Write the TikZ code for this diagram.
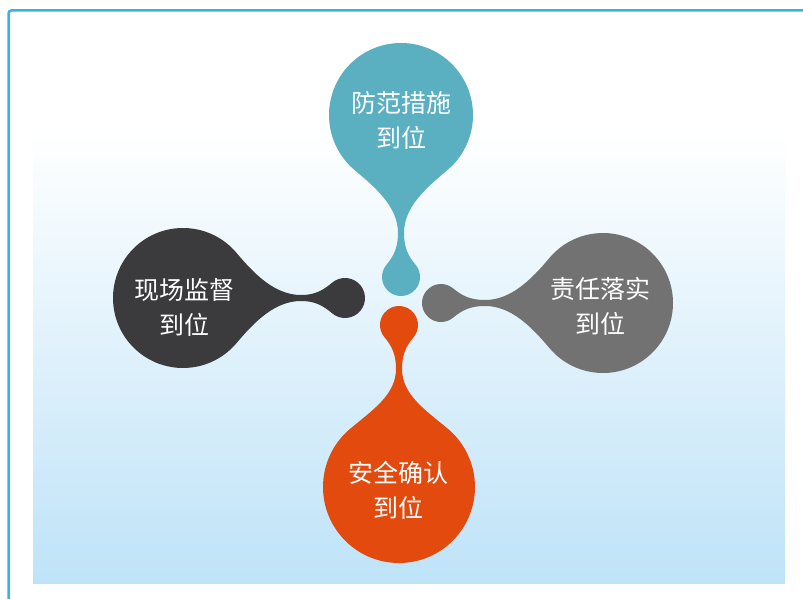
\documentclass[tikz,border=0pt]{standalone}
\usepackage{fontspec}
\newfontfamily\cjk{Noto Sans CJK SC}
\usepackage{tikz}
\usetikzlibrary{calc}

\definecolor{frameblue}{RGB}{52,180,230}
\definecolor{skyblue}{RGB}{190,227,248}
\definecolor{dropteal}{RGB}{90,175,192}
\definecolor{dropdark}{RGB}{59,58,60}
\definecolor{dropgray}{RGB}{114,114,114}
\definecolor{droporange}{RGB}{226,74,14}

% one drop: colour, centre of big circle, direction, big radius, small radius
\newcommand{\teardrop}[5]{%
\begin{scope}[shift={#2}, rotate=#3]
\fill[#1] (40:#4) .. controls +(-50:28) and +(-26,0) .. (118,3)
  .. controls +(14,0) and +(220:12) .. ($(162,0)+(130:#5)$)
  arc[start angle=130, end angle=-130, radius=#5]
  .. controls +(140:12) and +(14,0) .. (118,-3)
  .. controls +(-26,0) and +(50:28) .. (-40:#4)
  arc[start angle=-40, end angle=-320, radius=#4] -- cycle;
\end{scope}}

\begin{document}
\begin{tikzpicture}[x=1pt, y=-1pt,
  droptext/.style={text=white, align=center, font=\cjk\fontsize{25}{35}\selectfont}]%pixel units
\useasboundingbox (0,0) rectangle (803,599);
\fill[white] (0,0) rectangle (803,599);
\shade[top color=white, bottom color=skyblue] (33,130) rectangle (785,583);
\draw[frameblue, line width=2.5, rounded corners=3] (812,10.5) -- (8.5,10.5) -- (8.5,612);
\teardrop{dropteal}{(401,115)}{-90}{72}{19}
\teardrop{droporange}{(399,487)}{90}{76}{19}
\teardrop{dropdark}{(183,298)}{0}{70}{20}
\teardrop{dropgray}{(603,303)}{180}{70}{19}
\node[droptext] (fangfan) at (401,120) {防范措施\\到位};
\node[droptext] (jiandu) at (184,307) {现场监督\\到位};
\node[droptext] (zeren) at (600,306) {责任落实\\到位};
\node[droptext] (queren) at (398,490) {安全确认\\到位};
\end{tikzpicture}
\end{document}
